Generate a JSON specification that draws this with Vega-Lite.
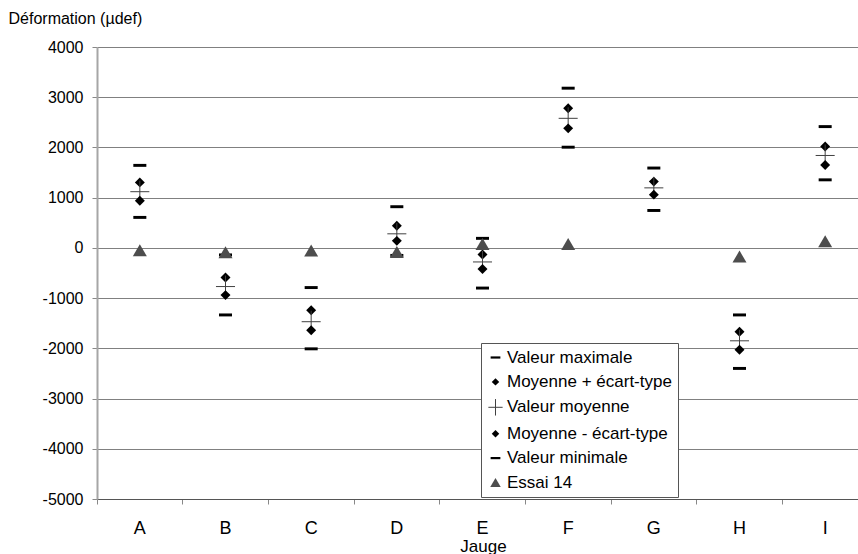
{
  "$schema": "https://vega.github.io/schema/vega-lite/v6.json",
  "width": 761,
  "height": 452,
  "autosize": {"type": "none"},
  "padding": {"left": 97, "top": 47, "right": 0, "bottom": 55},
  "background": "white",
  "config": {"view": {"stroke": null}, "font": "Liberation Sans"},
  "data": {"values": [
    {"jauge": "A", "serie": "Valeur maximale", "valeur": 1643},
    {"jauge": "B", "serie": "Valeur maximale", "valeur": -140},
    {"jauge": "C", "serie": "Valeur maximale", "valeur": -790},
    {"jauge": "D", "serie": "Valeur maximale", "valeur": 820},
    {"jauge": "E", "serie": "Valeur maximale", "valeur": 190},
    {"jauge": "F", "serie": "Valeur maximale", "valeur": 3180},
    {"jauge": "G", "serie": "Valeur maximale", "valeur": 1590},
    {"jauge": "H", "serie": "Valeur maximale", "valeur": -1335},
    {"jauge": "I", "serie": "Valeur maximale", "valeur": 2415},
    {"jauge": "A", "serie": "Moyenne + écart-type", "valeur": 1304},
    {"jauge": "B", "serie": "Moyenne + écart-type", "valeur": -590},
    {"jauge": "C", "serie": "Moyenne + écart-type", "valeur": -1240},
    {"jauge": "D", "serie": "Moyenne + écart-type", "valeur": 440},
    {"jauge": "E", "serie": "Moyenne + écart-type", "valeur": -130},
    {"jauge": "F", "serie": "Moyenne + écart-type", "valeur": 2780},
    {"jauge": "G", "serie": "Moyenne + écart-type", "valeur": 1320},
    {"jauge": "H", "serie": "Moyenne + écart-type", "valeur": -1670},
    {"jauge": "I", "serie": "Moyenne + écart-type", "valeur": 2020},
    {"jauge": "A", "serie": "Valeur moyenne", "valeur": 1119},
    {"jauge": "B", "serie": "Valeur moyenne", "valeur": -770},
    {"jauge": "C", "serie": "Valeur moyenne", "valeur": -1470},
    {"jauge": "D", "serie": "Valeur moyenne", "valeur": 280},
    {"jauge": "E", "serie": "Valeur moyenne", "valeur": -280},
    {"jauge": "F", "serie": "Valeur moyenne", "valeur": 2580},
    {"jauge": "G", "serie": "Valeur moyenne", "valeur": 1195},
    {"jauge": "H", "serie": "Valeur moyenne", "valeur": -1850},
    {"jauge": "I", "serie": "Valeur moyenne", "valeur": 1840},
    {"jauge": "A", "serie": "Moyenne - écart-type", "valeur": 940},
    {"jauge": "B", "serie": "Moyenne - écart-type", "valeur": -940},
    {"jauge": "C", "serie": "Moyenne - écart-type", "valeur": -1640},
    {"jauge": "D", "serie": "Moyenne - écart-type", "valeur": 140},
    {"jauge": "E", "serie": "Moyenne - écart-type", "valeur": -420},
    {"jauge": "F", "serie": "Moyenne - écart-type", "valeur": 2380},
    {"jauge": "G", "serie": "Moyenne - écart-type", "valeur": 1060},
    {"jauge": "H", "serie": "Moyenne - écart-type", "valeur": -2030},
    {"jauge": "I", "serie": "Moyenne - écart-type", "valeur": 1650},
    {"jauge": "A", "serie": "Valeur minimale", "valeur": 607},
    {"jauge": "B", "serie": "Valeur minimale", "valeur": -1335},
    {"jauge": "C", "serie": "Valeur minimale", "valeur": -2010},
    {"jauge": "D", "serie": "Valeur minimale", "valeur": -150},
    {"jauge": "E", "serie": "Valeur minimale", "valeur": -800},
    {"jauge": "F", "serie": "Valeur minimale", "valeur": 2005},
    {"jauge": "G", "serie": "Valeur minimale", "valeur": 745},
    {"jauge": "H", "serie": "Valeur minimale", "valeur": -2400},
    {"jauge": "I", "serie": "Valeur minimale", "valeur": 1355},
    {"jauge": "A", "serie": "Essai 14", "valeur": -46},
    {"jauge": "B", "serie": "Essai 14", "valeur": -86},
    {"jauge": "C", "serie": "Essai 14", "valeur": -53},
    {"jauge": "D", "serie": "Essai 14", "valeur": -80},
    {"jauge": "E", "serie": "Essai 14", "valeur": 76},
    {"jauge": "F", "serie": "Essai 14", "valeur": 76},
    {"jauge": "H", "serie": "Essai 14", "valeur": -173},
    {"jauge": "I", "serie": "Essai 14", "valeur": 133}
  ]},
  "mark": {"type": "point", "size": 196, "strokeWidth": 1, "opacity": 1, "filled": true},
  "encoding": {
    "x": {
      "field": "jauge", "type": "nominal", "sort": null,
      "scale": {"type": "band", "paddingInner": 0, "paddingOuter": 0, "range": [0, 771]},
      "axis": {
        "title": "Jauge", "titleFontSize": 17, "titleFontWeight": "normal", "titleColor": "black",
        "titleBaseline": "alphabetic", "titleAlign": "center", "titleX": 386, "titleY": 52,
        "labelAngle": 0, "labelFontSize": 18, "labelColor": "black", "labelPadding": 15, "labelBaseline": "top",
        "tickSize": 5, "tickColor": "#888888", "bandPosition": 0,
        "domainColor": "#555555", "grid": false
      }
    },
    "y": {
      "field": "valeur", "type": "quantitative",
      "scale": {"domain": [-5000, 4000], "nice": false, "zero": false},
      "axis": {
        "values": [-5000, -4000, -3000, -2000, -1000, 0, 1000, 2000, 3000, 4000],
        "labelExpr": "'' + datum.value",
        "title": "Déformation (µdef)", "titleAngle": 0, "titleAlign": "left", "titleBaseline": "alphabetic",
        "titleX": -89, "titleY": -24, "titleFontSize": 16, "titleFontWeight": "normal", "titleColor": "black",
        "labelFontSize": 16, "labelColor": "black", "labelPadding": 9, "labelFlush": false, "labelOverlap": false,
        "tickSize": 5, "tickColor": "#888888",
        "domainColor": "#a6a6a6", "domainWidth": 2,
        "grid": true, "gridColor": "#808080", "gridWidth": 1
      }
    },
    "shape": {
      "field": "serie", "type": "nominal",
      "scale": {
        "domain": ["Valeur maximale", "Moyenne + écart-type", "Valeur moyenne", "Moyenne - écart-type", "Valeur minimale", "Essai 14"],
        "range": [
          "M-0.93,-0.21H0.93V0.21H-0.93Z",
          "M-0.71,0L0,-0.71L0.71,0L0,0.71Z",
          "M-1.36,0H1.36M0,-1.57V1.57",
          "M-0.71,0L0,-0.71L0.71,0L0,0.71Z",
          "M-0.93,-0.21H0.93V0.21H-0.93Z",
          "M0,-0.86L1,0.86L-1,0.86Z"
        ]
      },
      "legend": {
        "title": null, "orient": "none", "legendX": 384, "legendY": 296, "padding": 6, "rowPadding": 6.4,
        "strokeColor": "#555555", "fillColor": "white", "labelFontSize": 17, "labelColor": "black",
        "labelOffset": 3, "symbolSize": 110, "symbolStrokeWidth": 1, "direction": "vertical", "labelLimit": 300
      }
    },
    "fill": {
      "field": "serie", "type": "nominal",
      "scale": {
        "domain": ["Valeur maximale", "Moyenne + écart-type", "Valeur moyenne", "Moyenne - écart-type", "Valeur minimale", "Essai 14"],
        "range": ["black", "black", "transparent", "black", "black", "#4d4d4d"]
      },
      "legend": {
        "title": null, "orient": "none", "legendX": 384, "legendY": 296, "padding": 6, "rowPadding": 6.4,
        "strokeColor": "#555555", "fillColor": "white", "labelFontSize": 17, "labelColor": "black",
        "labelOffset": 3, "symbolSize": 110, "symbolStrokeWidth": 1, "direction": "vertical", "labelLimit": 300
      }
    },
    "stroke": {
      "field": "serie", "type": "nominal",
      "scale": {
        "domain": ["Valeur maximale", "Moyenne + écart-type", "Valeur moyenne", "Moyenne - écart-type", "Valeur minimale", "Essai 14"],
        "range": ["transparent", "transparent", "#404040", "transparent", "transparent", "transparent"]
      },
      "legend": {
        "title": null, "orient": "none", "legendX": 384, "legendY": 296, "padding": 6, "rowPadding": 6.4,
        "strokeColor": "#555555", "fillColor": "white", "labelFontSize": 17, "labelColor": "black",
        "labelOffset": 3, "symbolSize": 110, "symbolStrokeWidth": 1, "direction": "vertical", "labelLimit": 300
      }
    }
  }
}
